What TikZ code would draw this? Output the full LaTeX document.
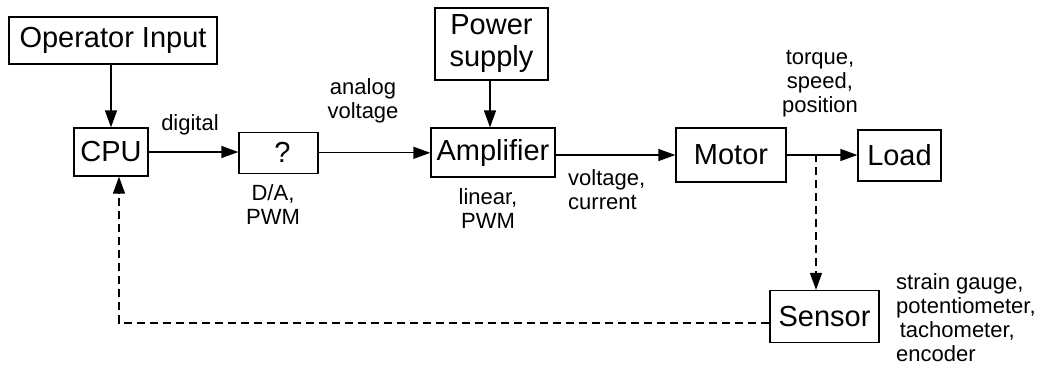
\documentclass[tikz,border=0pt]{standalone}
\usepackage{fontspec}
\setmainfont{Liberation Sans}
\usetikzlibrary{arrows.meta}
\begin{document}
\begin{tikzpicture}[x=1pt,y=-1pt,
  blk/.style={draw,line width=1.3pt,inner sep=0pt,font=\fontsize{29}{33}\selectfont},
  lbl/.style={inner sep=0pt,font=\fontsize{22}{24}\selectfont,align=center},
  conn/.style={line width=1.3pt,-{Triangle[length=17pt,width=12pt]}},
  fb/.style={conn,dash pattern=on 8pt off 5pt}]
\useasboundingbox (0,0) rectangle (1045,368);
\node[blk,minimum width=208pt,minimum height=47pt] (op) at (113,40.5) {Operator Input};
\node[blk,minimum width=74pt,minimum height=48pt] (cpu) at (111,152) {CPU};
\node[blk,minimum width=79pt,minimum height=41pt] (q) at (278.5,152.8) {\hspace*{8pt}?};
\node[blk,minimum width=113pt,minimum height=72pt,align=center] (pw) at (491.5,44) {Power\\[-1pt]supply};
\node[blk,minimum width=124pt,minimum height=49pt] (amp) at (493,152.5) {Amplifier};
\node[blk,minimum width=110pt,minimum height=54pt] (mot) at (731,155) {Motor};
\node[blk,minimum width=83pt,minimum height=51pt] (load) at (899.5,155.5) {Load};
\node[blk,minimum width=109pt,minimum height=52pt] (sen) at (824.5,316.5) {Sensor};

\node[lbl] (tdig) at (190,125) {digital};
\node[lbl] (tana) at (363,101) {analog\\voltage};
\node[lbl] (tda) at (273,205) {D/A,\\PWM};
\node[lbl] (tlin) at (488,209) {linear,\\PWM};
\node[lbl,align=left,anchor=west] (tvc) at (568,190) {voltage,\\current};
\node[lbl] (ttq) at (820,83.5) {torque,\\speed,\\position};
\node[lbl,align=left,anchor=west] (tsen) at (896,317.5) {strain gauge,\\potentiometer,\\ \,tachometer,\\encoder};

\coordinate (tap) at (816,154);
\coordinate (fbc) at (119,323);
\coordinate (pws) at ([xshift=-1.5pt]pw.south);

\draw[conn] (cpu.north |- op.south) -- (cpu.north);
\draw[conn] (cpu.east) -- (cpu.east -| q.west);
\draw[conn] (q.east) -- (q.east -| amp.west);
\draw[conn] (pws) -- (pws |- amp.north);
\draw[conn] (amp.east |- mot.west) -- (mot.west);
\draw[conn] (mot.east) -- (mot.east -| load.west);
\draw[fb] (tap) -- (tap |- sen.north);
\draw[fb] ([yshift=-6.5pt]sen.west) -- (fbc) -- (fbc |- cpu.south);
\end{tikzpicture}
\end{document}
